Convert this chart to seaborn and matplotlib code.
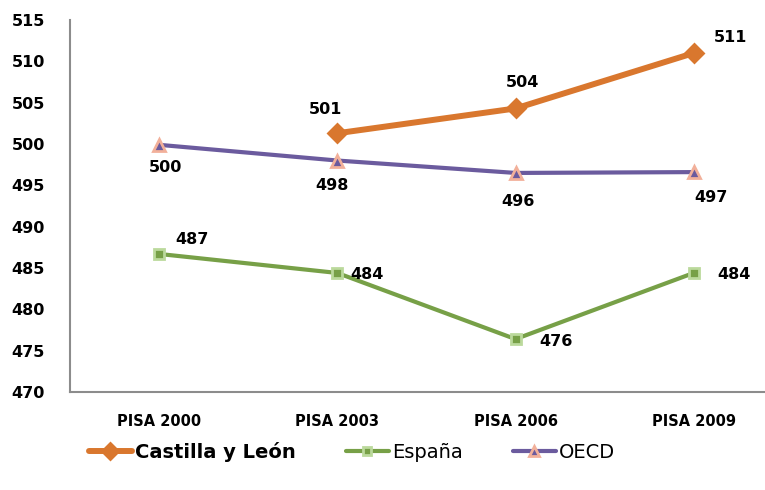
import numpy as np
import pandas as pd
from matplotlib import pyplot as plt
import seaborn as sns

# Datos PISA
categorias = ["PISA 2000", "PISA 2003", "PISA 2006", "PISA 2009"]
castilla = [np.nan, 501.3, 504.3, 511.0]
espana = [486.7, 484.4, 476.4, 484.4]
oecd = [499.9, 498.0, 496.5, 496.6]
etiquetas_castilla = [None, "501", "504", "511"]
etiquetas_espana = ["487", "484", "476", "484"]
etiquetas_oecd = ["500", "498", "496", "497"]

sns.set_style("white")
plt.rcParams['font.family'] = ['DejaVu Sans']

fig = plt.figure(figsize=(7.65, 4.9), dpi=100)
ax = fig.add_axes([70 / 765, 1 - 392 / 490, (765 - 70) / 765, (392 - 20) / 490])

x = np.arange(len(categorias))

series = [
    ("Castilla y León", castilla, etiquetas_castilla, "#D9772E", "D", 4.3, 9.5, "#D9772E", [None, (-12, 24), (7, 26), (37, 16)]),
    ("España", espana, etiquetas_espana, "#77A047", "s", 3, 7.5, "#BBD99C", [(33, 14), (30, -2), (40, -2), (40, -2)]),
    ("OECD", oecd, etiquetas_oecd, "#6B5B9E", "^", 3, 9, "#F2B09A", [(6, -23), (-5, -25), (2, -29), (17, -25)]),
]

for nombre, valores, etiquetas, color, marcador, lw, ms, borde, desplaz in series:
    df = pd.DataFrame({"x": x, "y": valores}).dropna()
    sns.lineplot(data=df, x="x", y="y", ax=ax, color=color, linewidth=lw,
                 marker=marcador, markersize=ms, markeredgecolor=borde,
                 markeredgewidth=2, label=nombre)
    for xi, yi, et, off in zip(x, valores, etiquetas, desplaz):
        if et is None:
            continue
        ax.annotate(et, (xi, yi), xytext=off, textcoords="offset pixels",
                    ha="center", va="center", fontsize=11.5, fontweight="bold",
                    color="black")

ax.set_xlim(-0.5, 3.4)
ax.set_ylim(470, 515)
ax.set_yticks(np.arange(470, 516, 5))
ax.set_xticks(x)
ax.set_xticklabels(categorias, fontsize=10.5, fontweight="bold")
for t in ax.get_yticklabels():
    t.set_fontsize(11.5)
    t.set_fontweight("bold")
ax.tick_params(axis="both", colors="black")
ax.tick_params(axis="y", length=0, pad=18)
ax.tick_params(axis="x", length=0, pad=16)
ax.set_xlabel("")
ax.set_ylabel("")
sns.despine(ax=ax, top=True, right=True)
for lado in ["left", "bottom"]:
    ax.spines[lado].set_color("#8C8C8C")
    ax.spines[lado].set_linewidth(1.5)

h, l = ax.get_legend_handles_labels()
ax.get_legend().remove()
leg = fig.legend(h, l, loc="center", bbox_to_anchor=(0.46, 0.078), ncol=3,
                 frameon=False, fontsize=14, handlelength=2.2, markerscale=0.85,
                 columnspacing=2.6, handletextpad=0.15)
for t in leg.get_texts():
    t.set_color("black")
leg.get_texts()[0].set_fontweight("bold")

fig.savefig("out.png", dpi=100)
